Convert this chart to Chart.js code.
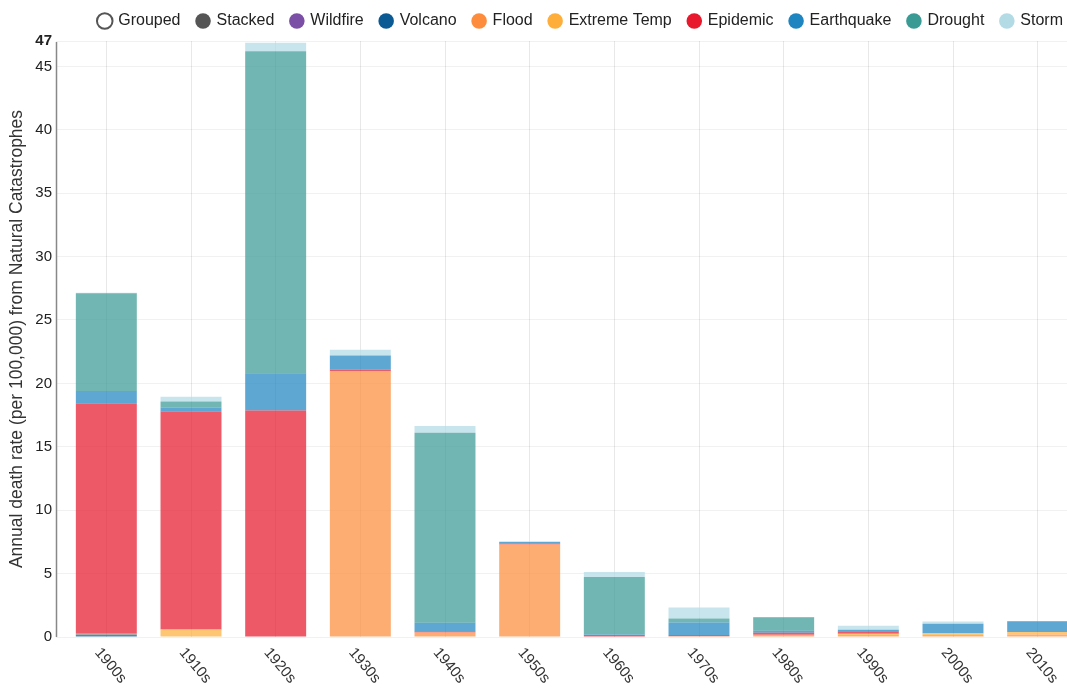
<!DOCTYPE html>
<html><head><meta charset="utf-8">
<script src="https://cdn.jsdelivr.net/npm/chart.js@4.4.1/dist/chart.umd.min.js"></script>
<style>html,body{margin:0;padding:0;overflow:hidden;background:#fff}#wrap{width:1080px;height:688px;position:relative}</style>
</head><body><div id="wrap"><canvas id="c"></canvas></div>
<script>
const decades = ['1900s','1910s','1920s','1930s','1940s','1950s','1960s','1970s','1980s','1990s','2000s','2010s'];
const wildfire    = [0,    0,    0,    0,    0,    0,    0,    0,    0,    0,    0,    0];
const volcano     = [0.2,  0,    0,    0,    0,    0,    0,    0,    0,    0,    0,    0];
const flood       = [0.05, 0,    0,    20.95,0.35, 7.3,  0,    0.05, 0.17, 0.15, 0.15, 0.2];
const extremeTemp = [0,    0.6,  0,    0,    0,    0,    0,    0,    0,    0.1,  0.15, 0.2];
const epidemic    = [18.15,17.16,17.87,0.15, 0.1,  0.05, 0.15, 0.1,  0.16, 0.21, 0,    0];
const earthquake  = [1.0,  0.34, 2.92, 1.1,  0.68, 0.15, 0.05, 1.0,  0.16, 0.11, 0.74, 0.84];
const drought     = [7.7,  0.48, 25.4, 0,    14.97,0,    4.54, 0.3,  1.07, 0,    0,    0];
const storm       = [0.05, 0.37, 0.67, 0.45, 0.53, 0.05, 0.39, 0.87, 0.02, 0.31, 0.18, 0.03];

const seriesNames  = ['Wildfire','Volcano','Flood','Extreme Temp','Epidemic','Earthquake','Drought','Storm'];
const seriesValues = [wildfire, volcano, flood, extremeTemp, epidemic, earthquake, drought, storm];
const seriesColors = ['#7b4fa6','#0b5a94','#fd8d3c','#fdae3b','#e8192c','#1f85c0','#3a9a94','#b3dbe6'];
const modeLabels   = ['Grouped','Stacked'];
const yTicks = [0,5,10,15,20,25,30,35,40,45,47];
const yTitle = 'Annual death rate (per 100,000) from Natural Catastrophes';

const FONT = '"Liberation Sans", Arial, Helvetica, sans-serif';
function rgba(hex, a){const n=parseInt(hex.slice(1),16);return `rgba(${n>>16},${(n>>8)&255},${n&255},${a})`;}

const xLabelPlugin = {
  id:'xlabels',
  afterDraw(chart){
    const {ctx, chartArea, scales:{x}} = chart;
    ctx.save();
    ctx.font = '15px ' + FONT;
    ctx.fillStyle = '#333';
    ctx.textAlign = 'left';
    ctx.textBaseline = 'middle';
    decades.forEach((d,i)=>{
      const px = x.getPixelForValue(i);
      ctx.save();
      ctx.translate(px - 9, chartArea.bottom + 13);
      ctx.rotate(50*Math.PI/180);
      ctx.fillText(d, 0, 0);
      ctx.restore();
    });
    ctx.restore();
  }
};
const yAxisLinePlugin = {
  id:'yaxisline',
  afterDatasetsDraw(chart){
    const {ctx, chartArea} = chart;
    const xx = Math.round(chartArea.left - 8) + 0.5;
    ctx.save();
    ctx.strokeStyle = '#888';
    ctx.lineWidth = 1.5;
    ctx.beginPath();
    ctx.moveTo(xx, chartArea.top + 1);
    ctx.lineTo(xx, chartArea.bottom);
    ctx.stroke();
    ctx.restore();
  }
};
const legendHeightPlugin = {
  id:'legendHeight',
  afterInit(chart){
    const lg = chart.legend;
    if(!lg) return;
    const orig = lg.fit;
    lg.fit = function(){ orig.call(this); this.height = 45; };
  }
};

new Chart(document.getElementById('c'), {
  type:'bar',
  data:{
    labels: decades,
    datasets: seriesNames.map((name,i)=>({
      label: name,
      data: seriesValues[i],
      backgroundColor: rgba(seriesColors[i], 0.72),
      borderWidth: 0,
      stack: 's'
    }))
  },
  plugins:[xLabelPlugin, yAxisLinePlugin, legendHeightPlugin],
  options:{
    responsive:true,
    maintainAspectRatio:false,
    animation:false,
    layout:{padding:{top:-4,bottom:51,left:0,right:0}},
    plugins:{
      tooltip:{enabled:false},
      legend:{
        position:'top',
        align:'end',
        onClick:null,
        labels:{
          usePointStyle:true,
          boxWidth:11,
          boxHeight:11,
          padding:17,
          color:'#222',
          font:{family:FONT, size:16},
          generateLabels(chart){
            const items = [
              {text:modeLabels[0], fillStyle:'#fff', strokeStyle:'#555', lineWidth:2, pointStyle:'circle', hidden:false, fontColor:'#222'},
              {text:modeLabels[1], fillStyle:'#555', strokeStyle:'#555', lineWidth:0, pointStyle:'circle', hidden:false, fontColor:'#222'}
            ];
            chart.data.datasets.forEach((ds,i)=>items.push({
              text: ds.label, fillStyle: seriesColors[i], strokeStyle: seriesColors[i],
              lineWidth:0, pointStyle:'circle', hidden:false, datasetIndex:i, fontColor:'#222'
            }));
            return items;
          }
        }
      }
    },
    scales:{
      x:{
        stacked:true,
        grid:{offset:false, color:'rgba(0,0,0,0.09)', drawTicks:false},
        border:{display:false},
        ticks:{display:false}
      },
      y:{
        stacked:true,
        min:0, max:47,
        afterBuildTicks(s){ s.ticks = yTicks.map(v=>({value:v})); },
        afterFit(s){ s.width = 64; },
        grid:{color:'rgba(0,0,0,0.055)', drawTicks:true, tickLength:8},
        border:{display:false},
        ticks:{
          padding:4,
          color:'#222',
          font: c => ({family:FONT, size:15, weight: (c.tick && c.tick.value===47) ? 'bold' : 'normal'}),
          autoSkip:false
        },
        title:{display:true, text:yTitle, color:'#333', font:{family:FONT, size:17.5}, padding:{top:7,bottom:0}}
      }
    }
  }
});
</script></body></html>
